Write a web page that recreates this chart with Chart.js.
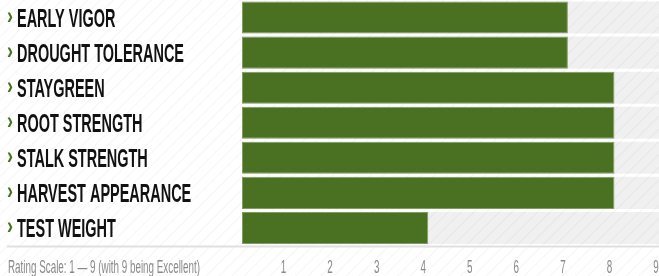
<!DOCTYPE html>
<html>
<head>
<meta charset="utf-8">
<script src="https://cdn.jsdelivr.net/npm/chart.js@4/dist/chart.umd.min.js"></script>
<style>
  html, body { margin: 0; padding: 0; overflow: hidden; }
  body {
    width: 659px; height: 276px;
    background: repeating-linear-gradient(135deg, #ffffff 0px, #ffffff 7px, #f5f5f5 8px, #ffffff 9px);
  }
  canvas { display: block; }
</style>
</head>
<body>
<canvas id="ratings" width="661" height="276"></canvas>
<script>
const traits = ["EARLY VIGOR", "DROUGHT TOLERANCE", "STAYGREEN", "ROOT STRENGTH", "STALK STRENGTH", "HARVEST APPEARANCE", "TEST WEIGHT"];
const ratings = [7, 7, 8, 8, 8, 8, 4];
const scaleMax = 9;
const tickLabels = ["", "1", "2", "3", "4", "5", "6", "7", "8", "9"];
const footnote = "Rating Scale: 1 \u2014 9 (with 9 being Excellent)";

const green = '#4a7021';
const font = '"Liberation Sans", Arial, sans-serif';

// squeezed text, the picture uses a condensed face
function narrowText(ctx, text, x, y, sx, align) {
  ctx.save();
  ctx.translate(x, y);
  ctx.scale(sx, 1);
  ctx.textAlign = align || 'left';
  ctx.textBaseline = 'alphabetic';
  ctx.fillText(text, 0, 0);
  ctx.restore();
}

const sideText = {
  id: 'sideText',
  afterDraw(chart) {
    const ctx = chart.ctx;
    const y = chart.scales.y;
    const x = chart.scales.x;
    const area = chart.chartArea;
    ctx.save();

    ctx.font = 'bold 26px ' + font;
    const squeeze = 167 / ctx.measureText("DROUGHT TOLERANCE").width;
    traits.forEach((t, i) => {
      const cy = y.getPixelForValue(i);
      ctx.fillStyle = green;
      ctx.font = 'bold 24px ' + font;
      narrowText(ctx, '\u203A', 7, cy + 6.5, 0.75);
      ctx.fillStyle = '#111';
      ctx.font = 'bold 26px ' + font;
      narrowText(ctx, t, 17, cy + 9, squeeze);
    });

    ctx.fillStyle = '#e0e0e0';
    ctx.fillRect(7, area.bottom, chart.width, 2);

    ctx.fillStyle = '#8a8a8a';
    ctx.font = '19px ' + font;
    const sq2 = 192 / ctx.measureText(footnote).width;
    narrowText(ctx, footnote, 8, 272.5, sq2);

    x.ticks.forEach((tk) => {
      const label = tickLabels[tk.value];
      if (label) narrowText(ctx, label, x.getPixelForValue(tk.value) - 5, 272.5, sq2, 'center');
    });
    ctx.restore();
  }
};

new Chart(document.getElementById('ratings'), {
  type: 'bar',
  data: {
    labels: traits,
    datasets: [{
      data: ratings,
      backgroundColor: green,
      borderColor: '#7f9d60',
      borderWidth: 1,
      borderSkipped: false,
      barPercentage: 0.914,
      categoryPercentage: 1,
      order: 0
    }, {
      data: traits.map(() => scaleMax),
      backgroundColor: 'rgba(0,0,0,0.06)',
      borderWidth: 0,
      barPercentage: 0.914,
      categoryPercentage: 1,
      order: 1
    }]
  },
  options: {
    indexAxis: 'y',
    responsive: false,
    animation: false,
    grouped: false,
    layout: {
      autoPadding: false,
      padding: { left: 242, top: 0, right: 0, bottom: 0 }
    },
    plugins: {
      legend: { display: false },
      tooltip: { enabled: false }
    },
    scales: {
      x: {
        min: 0,
        max: scaleMax,
        afterFit: (s) => { s.height = 30.5; },
        grid: { display: false },
        border: { display: false },
        ticks: { stepSize: 1, display: false }
      },
      y: {
        display: false
      }
    }
  },
  plugins: [sideText]
});
</script>
</body>
</html>
